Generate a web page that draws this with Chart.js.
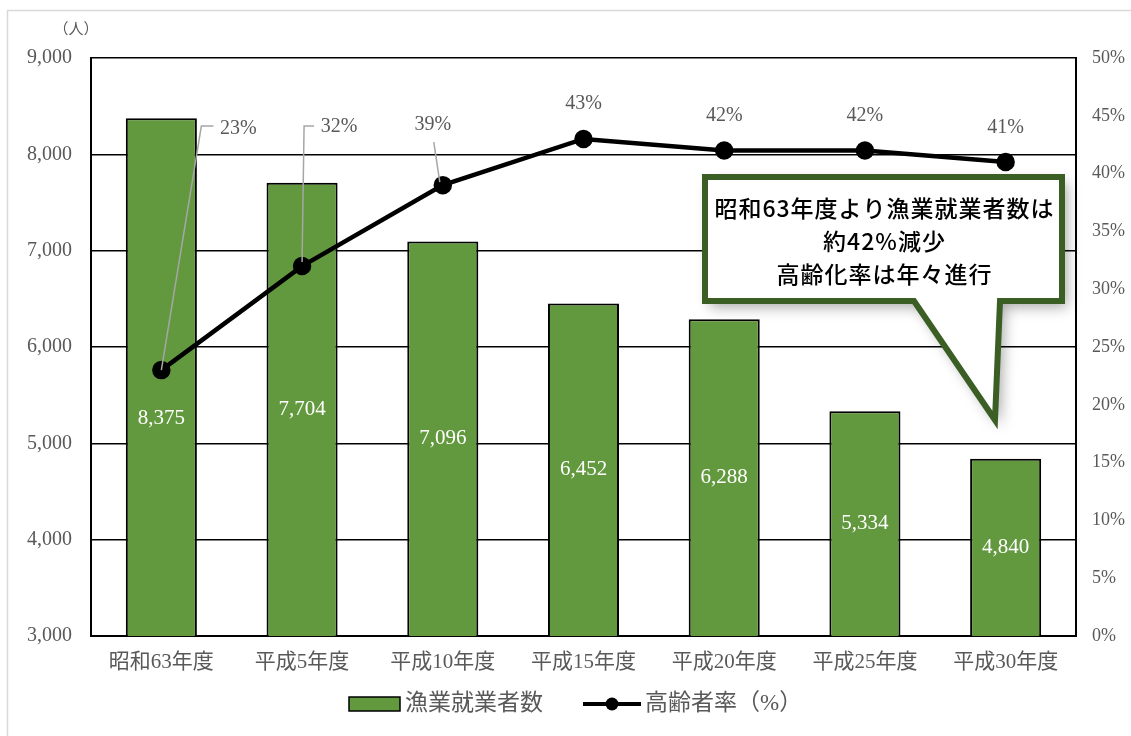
<!DOCTYPE html>
<html lang="ja">
<head>
<meta charset="utf-8">
<script src="https://cdn.jsdelivr.net/npm/chart.js@4.4.1/dist/chart.umd.min.js"></script>
<style>
  html,body{margin:0;padding:0;background:#fff;}
  #wrap{position:relative;width:1131px;height:736px;}
</style>
</head>
<body>
<div id="wrap"><canvas id="c"></canvas></div>
<script>
// ---- data ----
const categories = ['昭和63年度','平成5年度','平成10年度','平成15年度','平成20年度','平成25年度','平成30年度'];
const workers = [8375, 7704, 7096, 6452, 6288, 5334, 4840];
const agingRate = [23, 32, 39, 43, 42, 42, 41];
const barSeriesName = '漁業就業者数';
const lineSeriesName = '高齢者率（%）';
const leftUnit = '（人）';
const calloutLines = ['昭和63年度より漁業就業者数は', '約42%減少', '高齢化率は年々進行'];

// ---- style ----
const SERIF = "'Liberation Serif','Noto Sans CJK JP',serif";
const GOTHIC = "'Noto Sans CJK JP','Noto Sans',sans-serif";
const GRAY = '#595959';
const GREEN = '#62993e';
const DARKGREEN = '#3b5e24';

// label offsets (styling) for the line labels: [dx, dy] from point to text centre
const lineLabelOffsets = [[77,-241],[37,-139],[-10,-60],[0,-35],[0,-35],[0,-35],[0,-34]];
// leader lines: polylines relative to point, null if none
const leaders = [
  [[0,0],[40,-244],[52,-244]],
  [[0,-4],[2,-140],[12,-140]],
  [[-3,-3],[-9,-43]],
  null,null,null,null
];
const barLabelDy = [41,0,0,0,0,0,0];

const decorPlugin = {
  id:'decor',
  beforeDraw(chart){
    const ctx = chart.ctx;
    ctx.save();
    ctx.fillStyle='#fff';
    ctx.fillRect(0,0,chart.width,chart.height);
    ctx.strokeStyle='#d9d9d9';
    ctx.lineWidth=1.5;
    ctx.strokeRect(7.5,10.5,chart.width+20,chart.height+20);
    ctx.restore();
  },
  afterDraw(chart){
    const ctx = chart.ctx;
    const ca = chart.chartArea;
    ctx.save();
    // unit label
    ctx.fillStyle = GRAY;
    ctx.font = "15px " + SERIF;
    ctx.textAlign='center'; ctx.textBaseline='middle';
    ctx.fillText(leftUnit, 76, 30);

    // bar value labels
    const barMeta = chart.getDatasetMeta(0);
    ctx.font = "21px " + SERIF;
    ctx.fillStyle = '#ffffff';
    barMeta.data.forEach((b,i)=>{
      const y = (b.y + ca.bottom)/2 + barLabelDy[i];
      ctx.fillText(workers[i].toLocaleString('en-US'), b.x, y);
    });

    // line labels and leaders
    const lineMeta = chart.getDatasetMeta(1);
    lineMeta.data.forEach((p,i)=>{
      const L = leaders[i];
      if (L){
        ctx.strokeStyle='#a6a6a6';
        ctx.lineWidth=1.5;
        ctx.beginPath();
        L.forEach((pt,k)=>{ if(k===0) ctx.moveTo(p.x+pt[0],p.y+pt[1]); else ctx.lineTo(p.x+pt[0],p.y+pt[1]); });
        ctx.stroke();
      }
      ctx.fillStyle = GRAY;
      ctx.font = "20px " + SERIF;
      ctx.textAlign='center'; ctx.textBaseline='middle';
      const o = lineLabelOffsets[i];
      ctx.fillText(agingRate[i] + '%', p.x+o[0], p.y+o[1]);
    });

    // callout
    const bx=705, by=177, bw=357, bh=124;
    const tl=914, tr=1000, tipx=995, tipy=420;
    const path = ()=>{
      ctx.beginPath();
      ctx.moveTo(bx,by);
      ctx.lineTo(bx+bw,by);
      ctx.lineTo(bx+bw,by+bh);
      ctx.lineTo(tr,by+bh);
      ctx.lineTo(tipx,tipy);
      ctx.lineTo(tl,by+bh);
      ctx.lineTo(bx,by+bh);
      ctx.closePath();
    };
    ctx.save();
    ctx.shadowColor='rgba(0,0,0,0.35)';
    ctx.shadowBlur=14; ctx.shadowOffsetX=5; ctx.shadowOffsetY=6;
    path(); ctx.fillStyle='#fff'; ctx.fill();
    ctx.restore();
    path();
    ctx.lineWidth=6; ctx.strokeStyle=DARKGREEN; ctx.lineJoin='miter';
    ctx.stroke();
    ctx.fillStyle='#000';
    ctx.font = "500 23px " + GOTHIC;
    try { ctx.letterSpacing = '1px'; } catch(e) {}
    ctx.textAlign='center'; ctx.textBaseline='middle';
    const cx = bx + bw/2 + 1;
    calloutLines.forEach((t,k)=> ctx.fillText(t, cx, 208 + k*33));
    try { ctx.letterSpacing = '0px'; } catch(e) {}

    // legend
    const ly = 704;
    ctx.fillStyle=GREEN; ctx.fillRect(349,697,51,14);
    ctx.strokeStyle='#000'; ctx.lineWidth=1.5; ctx.strokeRect(349,697,51,14);
    ctx.fillStyle=GRAY; ctx.font="23px " + SERIF;
    ctx.textAlign='left'; ctx.textBaseline='middle';
    ctx.fillText(barSeriesName, 405, ly);
    ctx.strokeStyle='#000'; ctx.lineWidth=4;
    ctx.beginPath(); ctx.moveTo(583,ly); ctx.lineTo(641,ly); ctx.stroke();
    ctx.beginPath(); ctx.arc(612,ly,6.5,0,Math.PI*2); ctx.fillStyle='#000'; ctx.fill();
    ctx.fillStyle=GRAY;
    ctx.fillText(lineSeriesName, 645, ly);
    ctx.restore();
  }
};

new Chart(document.getElementById('c'), {
  data:{
    labels: categories,
    datasets:[
      {type:'bar', label:barSeriesName, data:workers, yAxisID:'y',
       backgroundColor:GREEN, borderColor:'#000', borderWidth:2,
       categoryPercentage:1.0, barPercentage:0.505, order:2},
      {type:'line', label:lineSeriesName, data:agingRate, yAxisID:'y2',
       borderColor:'#000', borderWidth:4.5, pointRadius:7, pointHoverRadius:7,
       pointBackgroundColor:'#000', pointBorderColor:'#000', tension:0, order:1}
    ]
  },
  options:{
    responsive:true, maintainAspectRatio:false, animation:false,
    devicePixelRatio:1,
    layout:{padding:{left:0,right:0,top:58,bottom:60}},
    plugins:{legend:{display:false}, tooltip:{enabled:false}},
    scales:{
      x:{
        grid:{display:false, drawTicks:false},
        border:{display:true,color:'#000',width:2},
        ticks:{color:GRAY, font:{family:SERIF,size:21}, padding:14, maxRotation:0},
        afterFit(s){ s.height=40; }
      },
      y:{
        position:'left', min:3000, max:9000,
        grid:{color:'#000', lineWidth:1.6, drawTicks:false},
        border:{display:true,color:'#000',width:2},
        ticks:{stepSize:1000, color:GRAY, font:{family:SERIF,size:20}, padding:19,
               callback:v=>v.toLocaleString('en-US')},
        afterFit(s){ s.width=91; }
      },
      y2:{
        position:'right', min:0, max:50,
        grid:{display:false, drawTicks:false},
        border:{display:true,color:'#000',width:2},
        ticks:{stepSize:5, color:GRAY, font:{family:SERIF,size:18}, padding:16,
               callback:v=>v+'%'},
        afterFit(s){ s.width=55; }
      }
    }
  },
  plugins:[decorPlugin]
});
</script>
</body>
</html>
